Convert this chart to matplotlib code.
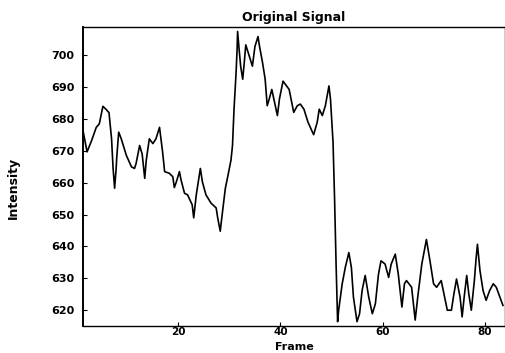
import matplotlib
matplotlib.use("Agg")
import matplotlib.pyplot as plt

# Data (frame, intensity)
frames = [1.3, 2.1, 3.0, 3.9, 4.5, 5.2, 5.8, 6.4, 6.9, 7.2, 7.5, 7.8, 7.9, 8.3, 8.8,
          9.8, 10.8, 11.4, 11.7, 12.4, 12.9, 13.4, 13.7, 14.3, 15.0, 15.6, 16.3, 16.9,
          17.3, 18.2, 18.9, 19.2, 19.6, 20.2, 20.5, 21.2, 21.8, 22.7, 23.0, 23.5, 24.3,
          24.7, 25.4, 26.4, 27.4, 27.7, 28.2, 28.5, 29.2, 29.6, 30.3, 30.6, 30.9, 31.3,
          31.5, 31.6, 31.9, 32.2, 32.6, 32.9, 33.2, 33.5, 34.0, 34.5, 35.0, 35.6, 35.9,
          36.5, 37.0, 37.4, 37.8, 38.3, 38.7, 39.4, 39.8, 40.5, 41.1, 41.7, 42.2, 42.6,
          43.3, 43.9, 44.6, 45.4, 46.5, 47.2, 47.6, 48.2, 48.8, 49.5, 49.8, 50.3, 50.6,
          50.9, 51.2, 51.4, 52.1, 52.7, 53.4, 53.9, 54.3, 55.0, 55.5, 56.0, 56.6, 57.3,
          58.0, 58.6, 59.2, 59.7, 60.5, 61.2, 61.7, 62.5, 63.1, 63.8, 64.3, 64.7, 65.7,
          66.4, 66.9, 67.7, 68.6, 69.3, 70.0, 70.6, 71.5, 71.9, 72.7, 73.5, 74.0, 74.5,
          75.2, 75.6, 76.0, 76.5, 76.9, 77.4, 78.0, 78.3, 78.6, 79.1, 79.7, 80.3, 81.0,
          81.7, 82.3, 83.0, 83.6]
intensity = [676.4, 669.7, 673.3, 677.4, 678.5, 684.0, 683.1, 682.0, 673.8, 664.5, 658.3,
             664.5, 667.6, 675.9, 673.8, 668.6, 665.0, 664.5, 666.0, 671.7, 669.0, 661.4,
             667.1, 673.8, 672.3, 673.8, 677.4, 669.7, 663.5, 663.0, 661.9, 658.5, 660.3,
             663.5, 661.0, 656.7, 656.2, 653.1, 649.0, 656.2, 664.5, 660.3, 656.2, 653.6,
             652.1, 649.0, 644.8, 649.0, 658.3, 661.4, 667.1, 671.7, 683.1, 694.5, 701.8,
             707.5, 701.8, 696.6, 692.5, 697.6, 703.3, 701.8, 699.2, 696.6, 702.8, 705.9,
             702.8, 697.6, 692.5, 684.2, 686.3, 689.3, 686.3, 681.1, 686.3, 691.9, 690.6,
             689.3, 685.2, 682.1, 684.2, 684.7, 683.1, 679.0, 675.1, 679.0, 683.1, 681.1,
             684.2, 690.4, 686.3, 672.8, 655.2, 634.5, 616.4, 620.0, 628.3, 633.4, 638.1,
             633.4, 624.1, 616.4, 618.9, 626.2, 630.9, 624.1, 618.9, 622.0, 631.2, 635.5,
             634.5, 630.3, 634.5, 637.6, 631.2, 621.0, 628.3, 629.3, 627.2, 616.9, 624.1,
             634.5, 642.2, 635.5, 628.3, 627.2, 629.3, 626.2, 620.0, 620.0, 625.2, 629.8,
             624.1, 617.9, 624.1, 630.9, 625.2, 620.0, 629.3, 635.5, 640.7, 632.4, 626.2,
             623.1, 626.2, 628.3, 627.2, 624.1, 621.5]

xticks = [20, 40, 60, 80]
yticks = [620, 630, 640, 650, 660, 670, 680, 690, 700]

fig = plt.figure(figsize=(5.06, 3.53), dpi=100)
ax = fig.add_axes([0.164, 0.077, 0.834, 0.8465])
ax.plot(frames, intensity, color="black", lw=1.2)

ax.set_xlim(1.3, 84.0)
ax.set_ylim(615.1, 708.9)
ax.set_xticks(xticks)
ax.set_yticks(yticks)
ax.tick_params(direction="in", length=3, width=0.8, labelsize=8, pad=6)
for lab in ax.get_xticklabels() + ax.get_yticklabels():
    lab.set_fontweight("bold")
ax.tick_params(axis="x", pad=1, labelsize=7.5)

for side in ["left", "bottom", "top", "right"]:
    ax.spines[side].set_linewidth(1.0)
    ax.spines[side].set_color("black")
ax.spines["left"].set_linewidth(1.4)

ax.set_title("Original Signal", fontsize=9, fontweight="bold", pad=4)
ax.set_xlabel("Frame", fontsize=8, fontweight="bold")
ax.xaxis.label.set_va("bottom")
ax.xaxis.set_label_coords(0.5, -0.088)
ax.set_ylabel("Intensity", fontsize=9, fontweight="bold")
ax.yaxis.set_label_coords(-0.15, 0.46)

fig.savefig("out.png", dpi=100, facecolor="white")
